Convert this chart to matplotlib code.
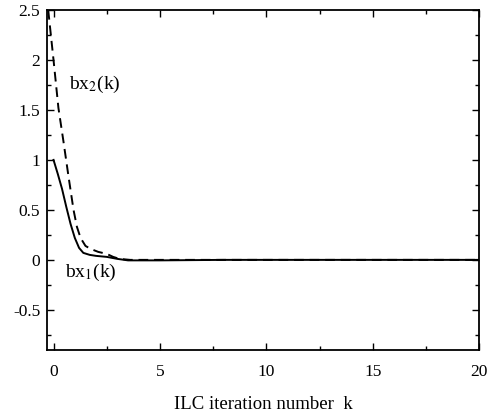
import numpy as np
import matplotlib.pyplot as plt
from matplotlib.ticker import MultipleLocator, FormatStrFormatter

plt.rcParams['font.family'] = ['Liberation Serif', 'DejaVu Serif']
plt.rcParams['mathtext.fontset'] = 'stix'

# bx1(k) - solid curve
k1 = [0, 0.2, 0.4, 0.6, 0.8, 1.0, 1.2, 1.4, 1.7, 2.0, 2.5, 3.0, 3.5, 5, 8, 12, 16, 20]
bx1 = [1.0, 0.86, 0.71, 0.53, 0.36, 0.22, 0.12, 0.07, 0.05, 0.04, 0.03, 0.01, -0.005,
       -0.005, 0.0, 0.0, 0.0, 0.0]

# bx2(k) - dashed curve
k2 = [-0.25, 0, 0.23, 0.47, 0.7, 0.94, 1.1, 1.27, 1.5, 1.74, 2.1, 2.5, 2.8, 3.1, 3.6,
      6, 10, 15, 20]
bx2 = [2.5, 2.0, 1.52, 1.18, 0.84, 0.5, 0.33, 0.22, 0.14, 0.11, 0.08, 0.06, 0.03, 0.01,
       0.0, 0.0, 0.0, 0.0, 0.0]

xticks = [0, 5, 10, 15, 20]
yticks = [-0.5, 0, 0.5, 1, 1.5, 2, 2.5]

fig = plt.figure(figsize=(4.91, 4.15), dpi=100)
ax = fig.add_axes([0.096, 0.157, 0.88, 0.819])

ax.plot(k1, bx1, color='black', lw=1.4)
ax.plot(k2, bx2, color='black', lw=1.4, ls=(0, (5, 3)))

ax.set_xlim(-0.3, 20)
ax.set_ylim(-0.9, 2.5)
ax.set_xticks(xticks)
ax.set_yticks(yticks)
ax.xaxis.set_minor_locator(MultipleLocator(2.5))
ax.yaxis.set_minor_locator(MultipleLocator(0.25))
ax.yaxis.set_major_formatter(FormatStrFormatter('%g'))
ax.tick_params(which='both', direction='in', top=True, right=True, labelsize=12.5)
ax.tick_params(axis='x', pad=10)
ax.tick_params(axis='y', pad=5)
ax.tick_params(which='major', length=5, width=1)
ax.tick_params(which='minor', length=3, width=1)
for s in ax.spines.values():
    s.set_linewidth(1.3)

ax.text(1.95, 1.75, 'bx$_2$(k)', fontsize=14, ha='center', va='center')
ax.text(1.75, -0.13, 'bx$_1$(k)', fontsize=14, ha='center', va='center')

ax.set_xlabel('ILC iteration number  k', fontsize=13.5, labelpad=12)

fig.savefig('out.png', dpi=100)
